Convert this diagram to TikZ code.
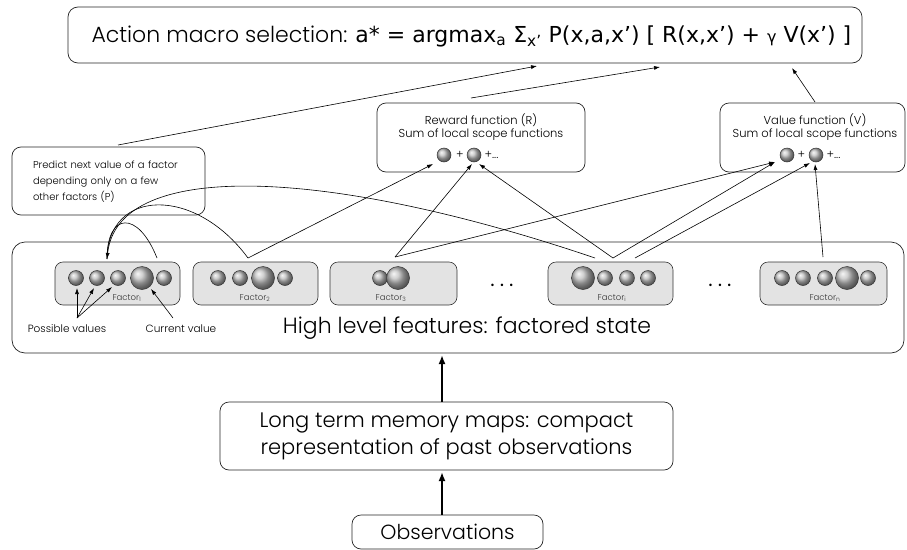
\documentclass[tikz,border=0pt]{standalone}
\usepackage{fontspec}
\setmainfont{Poppins Light}
\newfontfamily\formfont{DejaVu Sans}
\usetikzlibrary{arrows.meta}
\begin{document}
\begin{tikzpicture}[x=1pt,y=-1pt,
  box/.style={draw=black!85, line width=0.7pt, rounded corners=9pt, inner sep=0pt},
  facbox/.style={draw=black!80, line width=0.6pt, rounded corners=8pt, fill=gray!22, minimum width=125pt, minimum height=43pt, inner sep=0pt},
  sball/.style={circle, draw=black!80, line width=0.5pt, ball color=gray!50, minimum size=15pt, inner sep=0pt},
  bball/.style={sball, minimum size=23pt},
  rball/.style={sball, minimum size=14pt},
  conn/.style={line width=0.6pt, -{Latex[length=6pt,width=4pt]}},
  plain/.style={line width=0.6pt},
  bigarrow/.style={line width=1.8pt, -{Latex[length=9pt,width=7pt]}},
  flabel/.style={font=\fontsize{8.5}{9}\selectfont, text=black!80},
  small/.style={font=\fontsize{11.5}{13}\selectfont},
]
\useasboundingbox (0,0) rectangle (907,549);

% top box
\node[box, rounded corners=10pt, minimum width=794pt, minimum height=56pt] (top) at (465,35) {};
\node[anchor=west] (toptext) at (88,36) {\fontsize{22}{26}\selectfont Action macro selection: {\formfont\fontsize{22}{26}\selectfont a* = argmax\textsubscript{a} Σ\textsubscript{x’} P(x,a,x’) [ R(x,x’) + {\fontsize{16}{16}\selectfont γ} V(x’) ]}};
\coordinate (tP) at (537,66);
\coordinate (tR) at (660,67);
\coordinate (tV) at (792,68);

% reward box
\node[box, minimum width=208pt, minimum height=69pt] (rbox) at (481,137.5) {};
\node[small] (rt1) at (481,120) {Reward function (R)};
\node[small] (rt2) at (481,135) {Sum of local scope functions};
\node[rball] (r1) at (444,155) {};
\node[small] (rp1) at (460,155) {+};
\node[rball] (r2) at (474,155) {};
\node[small, anchor=west] (rp2) at (481,155) {+...};
\coordinate (rtop) at (471,98);

% value box
\node[box, minimum width=185pt, minimum height=69pt] (vbox) at (812.5,137.5) {};
\node[small] (vt1) at (815,120) {Value function (V)};
\node[small] (vt2) at (815,135) {Sum of local scope functions};
\node[rball] (v1) at (787,155) {};
\node[small] (vp1) at (801.5,155) {+};
\node[rball] (v2) at (816,155) {};
\node[small, anchor=west] (vp2) at (823,155) {+...};
\coordinate (vtop) at (815,102);

% P box
\node[box, minimum width=193pt, minimum height=68pt] (pbox) at (108.5,181) {};
\node[inner sep=0pt, text width=158pt, align=left, font=\fontsize{10}{16}\selectfont] (ptext) at (112,182) {Predict next value of a factor\\depending only on a few\\other factors (P)};
\coordinate (ptop) at (118,145);

% high level box
\node[box, rounded corners=13pt, minimum width=892pt, minimum height=111pt] (hl) at (458,297.5) {};
\node (hltext) at (467,328) {\fontsize{22}{24}\selectfont High level features: factored state};

% factor boxes
\node[facbox] (f1) at (117.5,283.5) {};
\node[facbox] (f2) at (255.5,283.5) {};
\node[facbox, minimum width=127pt] (f3) at (393.5,283.5) {};
\node[facbox] (fi) at (610.5,283.5) {};
\node[facbox, minimum width=127pt] (fn) at (823.5,283.5) {};

% balls
\node[sball] (b11) at (76,278) {};
\node[sball] (b12) at (97,278) {};
\node[sball] (b13) at (118,278) {};
\node[bball] (b14) at (142,278) {};
\node[sball] (b15) at (164,278) {};

\node[sball] (b21) at (218,278) {};
\node[sball] (b22) at (240,278) {};
\node[bball] (b23) at (263,278) {};
\node[sball] (b24) at (285,278) {};

\node[sball] (b31) at (380,278) {};
\node[bball] (b32) at (398,278) {};

\node[bball] (bi1) at (583,278) {};
\node[sball] (bi2) at (605,278) {};
\node[sball] (bi3) at (627,278) {};
\node[sball] (bi4) at (648,278) {};

\node[sball] (bn1) at (782,278) {};
\node[sball] (bn2) at (803,278) {};
\node[sball] (bn3) at (825,278) {};
\node[bball] (bn4) at (847,278) {};
\node[sball] (bn5) at (868,278) {};

\node[flabel] (l1) at (127,298) {Factor\textsubscript{1}};
\node[flabel] (l2) at (255,298) {Factor\textsubscript{2}};
\node[flabel] (l3) at (391,298) {Factor\textsubscript{3}};
\node[flabel] (li) at (612,298) {Factor\textsubscript{i}};
\node[flabel] (ln) at (825,298) {Factor\textsubscript{n}};

\node (dots1) at (502,285) {\fontsize{24}{24}\selectfont .\kern5pt.\kern5pt.};
\node (dots2) at (720,285) {\fontsize{24}{24}\selectfont .\kern5pt.\kern5pt.};

% annotations
\node[font=\fontsize{10.5}{11}\selectfont] (pv) at (67,329) {Possible values};
\node[font=\fontsize{10.5}{11}\selectfont] (cv) at (181,329) {Current value};
\coordinate (pvs) at (77,318);
\coordinate (cvs) at (173,318);
\draw[conn] (pvs) -- (77,288);
\draw[conn] (pvs) -- (94,288);
\draw[conn] (pvs) -- (112,287);
\draw[conn] (cvs) -- (151,289);

% attachment points
\coordinate (f1a) at (157,258);
\coordinate (f1in) at (107,259);
\coordinate (f2a) at (248,258);
\coordinate (f3a) at (395,257);
\coordinate (fia) at (595,258);
\coordinate (fib) at (613,258);
\coordinate (fic) at (635,258);
\coordinate (fna) at (823,257);
\coordinate (r1t) at (433,164);
\coordinate (r2t) at (472,164);
\coordinate (r2u) at (479,164);
\coordinate (v1t) at (775,162);
\coordinate (v2t) at (810,163);
\coordinate (v2u) at (815,164);

% transition curves into factor 1
\draw[plain] (f1a) .. controls (138,210) and (107,212) .. (f1in);
\draw[plain] (f2a) .. controls (195,186) and (108,188) .. (f1in);
\draw[conn] (fia) .. controls (330,168) and (118,158) .. (f1in);

% reward / value connectors
\draw[conn] (f2a) -- (r1t);
\draw[conn] (f3a) -- (r2t);
\draw[conn] (f3a) -- (v1t);
\draw[conn] (fib) -- (r2u);
\draw[conn] (fib) -- (v1t);
\draw[conn] (fic) -- (v2t);
\draw[conn] (fna) -- (v2u);

% to top
\draw[conn] (ptop) -- (tP);
\draw[conn] (rtop) -- (tR);
\draw[conn] (vtop) -- (tV);

% lower boxes
\node[box, minimum width=453pt, minimum height=68pt, align=center, font=\fontsize{21}{27}\selectfont] (ltm) at (446.5,436) {Long term memory maps: compact\\representation of past observations};
\node[box, minimum width=191pt, minimum height=34pt, font=\fontsize{20.5}{22}\selectfont] (obs) at (447.5,532) {Observations};
\draw[bigarrow] (ltm.north -| 442,0) -- (442,355);
\draw[bigarrow] (obs.north -| 442,0) -- (442,472);
\end{tikzpicture}
\end{document}
